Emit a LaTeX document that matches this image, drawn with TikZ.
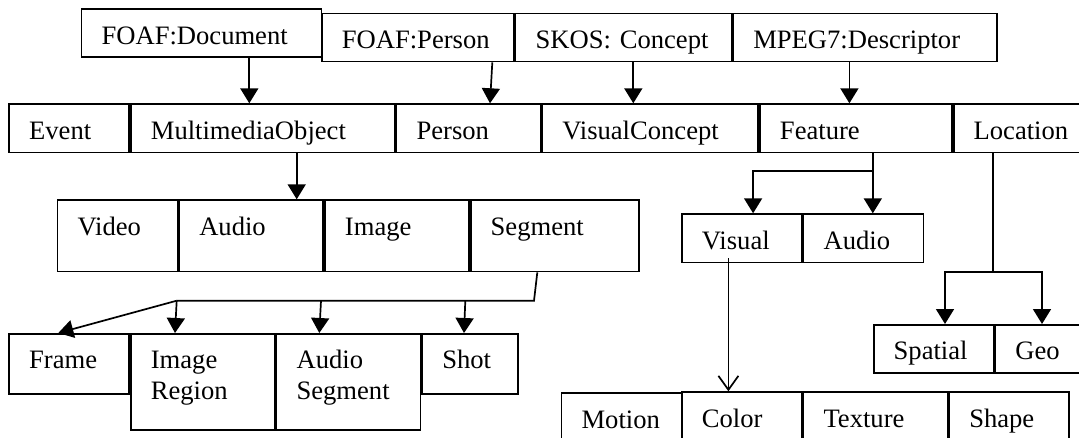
\documentclass[tikz,border=0pt]{standalone}
\usepackage{fontspec}
\setmainfont{Liberation Serif}
\usetikzlibrary{arrows.meta}

\tikzset{
  cell/.style 2 args={draw, line width=0.85pt, anchor=north west,
    inner xsep=10pt, inner ysep=0pt,
    minimum width=#1, text width=#1-20pt,
    minimum height=#2, text height=17.5pt, text depth=#2-17.5pt,
    align=left, font=\fontsize{13.3}{15.5}\selectfont},
  arr/.style={-{Triangle[length=7.5pt,width=9pt]}, line width=0.85pt},
  openarr/.style={-{Straight Barb[length=7pt,width=10pt]}, line width=0.85pt}
}

\begin{document}
\begin{tikzpicture}[x=1pt,y=-1pt]
    \useasboundingbox (0,0) rectangle (539.5,219);
    \clip (0,0) rectangle (539.5,219);
    % vocabularies
    \node[cell={120pt}{23.85pt}] (fdoc) at (40.35,4.15) {FOAF:Document};
    \node[cell={96pt}{24pt}] (fperson) at (160.5,6.35) {FOAF:Person};
    \node[cell={108pt}{24pt}] (skos) at (fperson.north east) {SKOS:~Concept};
    \node[cell={132pt}{24pt}] (mpeg) at (skos.north east) {MPEG7:Descriptor};
    % main classes
    \node[cell={60pt}{24.2pt}] (event) at (4.15,51.65) {Event};
    \node[cell={132pt}{24.2pt}] (mmo) at (event.north east) {MultimediaObject};
    \node[cell={72pt}{24.2pt}] (person) at (mmo.north east) {Person};
    \node[cell={108pt}{24.2pt}] (vconcept) at (person.north east) {VisualConcept};
    \node[cell={96pt}{24.2pt}] (feature) at (vconcept.north east) {Feature};
    \node[cell={80pt}{24.2pt}] (location) at (feature.north east) {Location};
    % multimedia objects
    \node[cell={60pt}{35.7pt}] (video) at (28.35,99.65) {Video};
    \node[cell={72pt}{35.7pt}] (audio) at (video.north east) {Audio};
    \node[cell={72pt}{35.7pt}] (image) at (audio.north east) {Image};
    \node[cell={84pt}{35.7pt}] (segment) at (image.north east) {Segment};
    % segments
    \node[cell={60pt}{30pt}] (frame) at (4.15,166.5) {Frame};
    \node[cell={72pt}{48pt}] (iregion) at (frame.north east) {Image\\Region};
    \node[cell={72pt}{48pt}] (aseg) at (iregion.north east) {Audio\\Segment};
    \node[cell={48pt}{30pt}] (shot) at (aseg.north east) {Shot};
    % features
    \node[cell={60pt}{24.2pt}] (visual) at (340.5,106.65) {Visual};
    \node[cell={60pt}{24.2pt}] (faudio) at (visual.north east) {Audio};
    \node[cell={60pt}{30pt}] (motion) at (280.35,196.15) {Motion};
    \node[cell={60pt}{30pt}] (color) at (340.5,195.65) {Color};
    \node[cell={72pt}{30pt}] (texture) at (color.north east) {Texture};
    \node[cell={60pt}{30pt}] (shape) at (texture.north east) {Shape};
    % locations
    \node[cell={60pt}{24pt}] (spatial) at (436.4,162) {Spatial};
    \node[cell={60pt}{24pt}] (geo) at (spatial.north east) {Geo};

    \draw[arr] (124.65,0 |- fdoc.south) -- (124.65,0 |- mmo.north);
    \draw[arr] (246.15,0 |- fperson.south) -- (245,0 |- person.north);
    \draw[arr] (316.65,0 |- skos.south) -- (316.65,0 |- vconcept.north);
    \draw[arr] (424.7,0 |- mpeg.south) -- (424.7,0 |- feature.north);
    \draw[arr] (148.35,0 |- mmo.south) -- (148.35,0 |- audio.north);
    % feature split
    \draw[arr] (436.4,0 |- feature.south) -- (436.4,0 |- faudio.north);
    \draw[arr] (436.4,85.35) -| (376.55,0 |- visual.north);
    % segment split
    \coordinate (segbus) at (88.35,150.35);
    \draw[line width=0.85pt] (268.65,0 |- segment.south) -- (267,150.35) -- (segbus);
    \draw[arr] (segbus) -- (29.15,0 |- frame.north);
    \draw[arr] (segbus) -- (87.5,0 |- iregion.north);
    \draw[arr] (160.5,150.35) -- (159.65,0 |- aseg.north);
    \draw[arr] (232.65,150.35) -- (232,0 |- shot.north);
    % location split
    \draw[arr] (496.5,0 |- location.south) -- (496.5,135.85) -| (472.5,0 |- spatial.north);
    \draw[arr] (496.5,135.85) -| (521,0 |- geo.north);
    \draw[openarr] (364.2,129.15) -- (364.2,0 |- color.north);
\end{tikzpicture}
\end{document}
